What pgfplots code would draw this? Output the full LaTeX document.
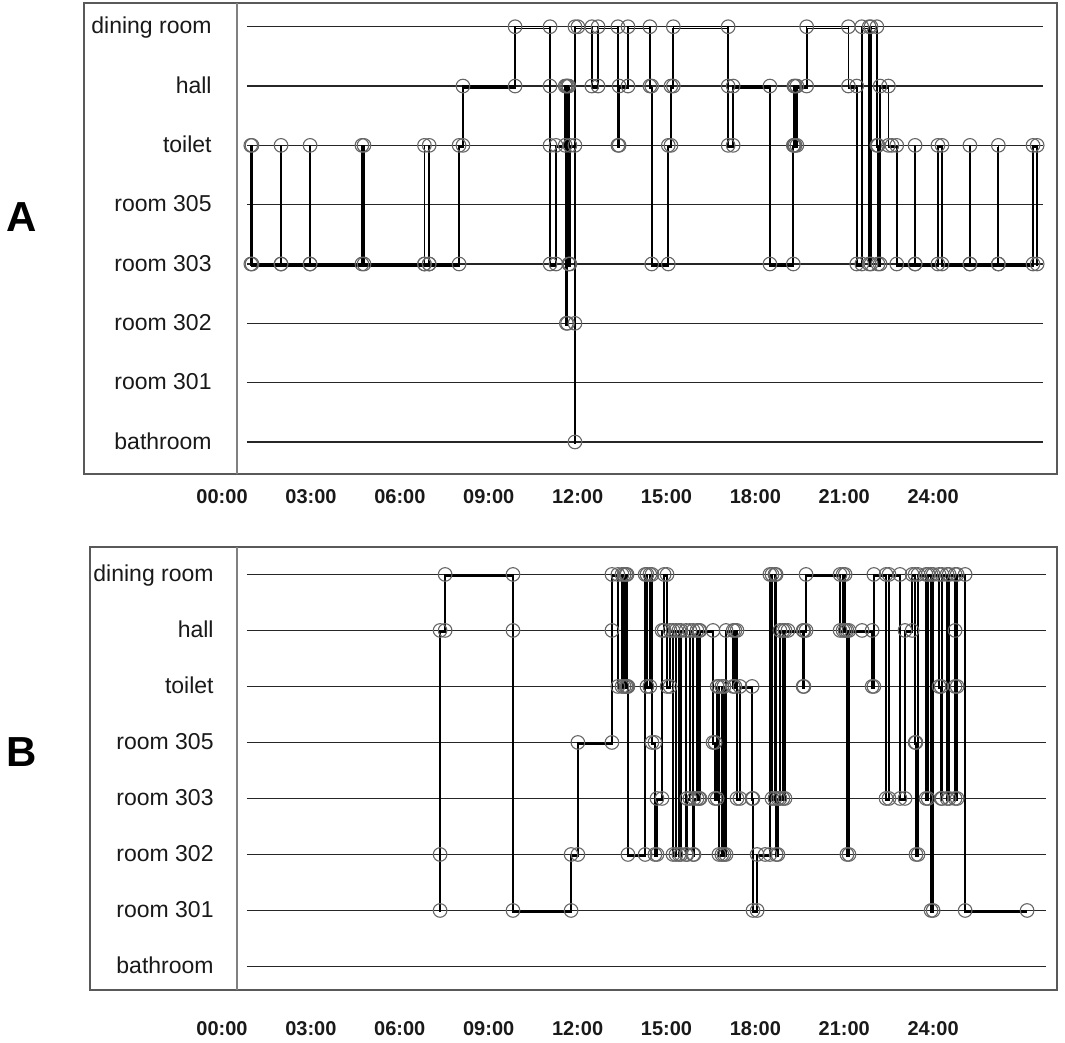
\documentclass[border=0pt]{standalone}
\usepackage{pgfplots}
\pgfplotsset{compat=1.18}
\usepackage{fontspec}
\setmainfont{Liberation Sans}

\pgfplotstableread{
x y
0.97 3
0.97 5
1.01 5
1.01 3
1.99 3
1.99 5
1.99 3
2.97 3
2.97 5
2.97 3
4.72 3
4.72 5
4.79 5
4.79 3
6.83 3
6.83 5
6.83 3
6.99 3
6.99 5
6.99 3
8.00 3
8.00 5
8.13 5
8.13 6
9.89 6
9.89 7
11.07 7
11.07 6
11.07 5
11.07 3
11.27 3
11.27 5
11.58 5
11.58 6
11.62 6
11.62 2
11.66 2
11.66 6
11.70 6
11.70 3
11.74 3
11.74 5
11.91 5
11.91 2
11.91 0
11.91 7
12.01 7
12.48 7
12.48 6
12.69 6
12.69 7
13.36 7
13.36 5
13.40 5
13.40 6
13.70 6
13.70 7
14.44 7
14.44 6
14.50 6
14.50 3
15.06 3
15.06 5
15.15 5
15.15 6
15.23 6
15.23 7
17.08 7
17.08 6
17.08 5
17.25 5
17.25 6
18.49 6
18.49 3
19.28 3
19.28 5
19.30 5
19.30 6
19.34 6
19.34 5
19.40 5
19.40 6
19.73 6
19.73 7
21.14 7
21.14 6
21.42 6
21.42 3
21.59 3
21.59 7
21.84 7
21.84 3
21.90 3
21.90 7
22.10 7
22.10 5
22.14 5
22.14 3
22.21 3
22.21 6
22.49 6
22.49 5
22.61 5
22.77 5
22.77 3
23.39 3
23.39 5
23.39 3
24.16 3
24.16 5
24.30 5
24.30 3
25.24 3
25.24 5
25.24 3
26.20 3
26.20 5
26.20 3
27.37 3
27.37 5
27.51 5
27.51 3
}\pathA

\pgfplotstableread{
x y
7.36 1
7.36 2
7.36 6
7.53 6
7.53 7
9.82 7
9.82 6
9.82 1
11.78 1
11.78 2
12.01 2
12.01 4
13.16 4
13.16 6
13.16 7
13.36 7
13.36 5
13.50 5
13.50 7
13.57 7
13.57 5
13.63 5
13.63 7
13.67 7
13.67 5
13.70 5
13.70 2
14.28 2
14.28 7
14.34 7
14.34 5
14.44 5
14.44 7
14.51 7
14.51 4
14.61 4
14.61 2
14.68 2
14.68 3
14.85 3
14.85 6
14.92 6
14.92 7
15.02 7
15.02 5
15.12 5
15.12 6
15.22 6
15.22 2
15.32 2
15.32 6
15.42 6
15.42 2
15.49 2
15.49 6
15.66 6
15.66 2
15.69 2
15.69 3
15.79 3
15.79 6
15.90 6
15.90 2
15.93 2
15.93 3
16.03 3
16.03 6
16.10 6
16.10 3
16.13 3
16.13 6
16.57 6
16.57 4
16.64 4
16.64 3
16.71 3
16.71 5
16.77 5
16.77 2
16.87 2
16.87 5
16.94 5
16.94 2
17.01 2
17.01 6
17.25 6
17.25 5
17.31 5
17.31 6
17.38 6
17.38 3
17.48 3
17.48 5
17.89 5
17.89 3
17.92 3
17.92 1
18.06 1
18.06 2
18.33 2
18.49 2
18.49 7
18.56 7
18.56 3
18.66 3
18.66 7
18.70 7
18.70 2
18.76 2
18.76 3
18.83 3
18.83 6
18.93 6
18.93 3
19.00 3
19.00 6
19.10 6
19.61 6
19.61 5
19.64 5
19.64 6
19.71 6
19.71 7
20.86 7
20.86 6
20.96 6
20.96 7
21.03 7
21.03 6
21.09 6
21.09 2
21.16 2
21.16 6
21.60 6
21.94 6
21.94 5
22.00 5
22.00 7
22.41 7
22.41 3
22.51 3
22.51 7
22.88 7
22.88 3
23.05 3
23.05 6
23.29 6
23.29 7
23.39 7
23.39 4
23.42 4
23.42 2
23.49 2
23.49 7
23.76 7
23.76 3
23.83 3
23.83 7
23.93 7
23.93 1
24.00 1
24.00 7
24.20 7
24.20 5
24.27 5
24.27 3
24.30 3
24.30 7
24.47 7
24.47 3
24.54 3
24.54 7
24.74 7
24.74 6
24.74 5
24.74 3
24.81 3
24.81 5
24.81 7
25.08 7
25.08 1
27.17 1
}\pathB

\pgfplotsset{
  actplot/.style={
    scale only axis,
    xtick={0,3,...,24},
    xticklabels={00:00,03:00,06:00,09:00,12:00,15:00,18:00,21:00,24:00},
    ytick=\empty,
    major tick length=0pt,
    axis line style={black!65, line width=0.6pt},
    xticklabel style={font=\fontsize{10}{12}\selectfont\bfseries, text=black!90},
  },
  catline/.style={black!85, line width=0.75pt, forget plot},
  trail/.style={black, line width=0.7pt, mark=o, mark size=3.4pt,
    mark options={draw=black!60, line width=0.55pt, solid}},
  trailshadow/.style={black, line width=0.9pt, yshift=-0.9pt, forget plot},
}
\tikzset{
  catlab/.style={anchor=east, inner sep=0pt, text height=0.72em, text depth=0pt,
    font=\fontsize{11.5}{13}\selectfont, text=black!90},
}

\begin{document}
\begin{tikzpicture}
\path[use as bounding box] (0pt,0pt) rectangle (532.5pt,-521.5pt);

% ---------- Panel A ----------
\begin{axis}[actplot,
  at={(42pt,-237pt)}, anchor=south west,
  width=486.5pt, height=235.5pt,
  xmin=-4.66, xmax=28.18, ymin=-0.54, ymax=7.40,
  xticklabel style={yshift=-4pt}]
  \pgfplotsinvokeforeach{0,...,7}{
    \addplot[catline] coordinates {(0.84,#1) (27.71,#1)};
  }
  \addplot[black!50, line width=1.1pt, forget plot] coordinates {(0.51,-0.54) (0.51,7.40)};
  \addplot[trailshadow] table[x=x, y=y] {\pathA};
  \addplot[trail] table[x=x, y=y] {\pathA};
  \node[catlab] at (axis cs:-0.34,7) {dining room};
  \node[catlab] at (axis cs:-0.34,6) {hall};
  \node[catlab] at (axis cs:-0.34,5) {toilet};
  \node[catlab] at (axis cs:-0.34,4) {room 305};
  \node[catlab] at (axis cs:-0.34,3) {room 303};
  \node[catlab] at (axis cs:-0.34,2) {room 302};
  \node[catlab] at (axis cs:-0.34,1) {room 301};
  \node[catlab] at (axis cs:-0.34,0) {bathroom};
\end{axis}

% ---------- Panel B ----------
\begin{axis}[actplot,
  at={(45pt,-495pt)}, anchor=south west,
  width=483.5pt, height=221.5pt,
  xmin=-4.455, xmax=28.18, ymin=-0.42, ymax=7.49,
  xticklabel style={yshift=-12pt}]
  \pgfplotsinvokeforeach{0,...,7}{
    \addplot[catline] coordinates {(0.84,#1) (27.81,#1)};
  }
  \addplot[black!50, line width=1.1pt, forget plot] coordinates {(0.51,-0.42) (0.51,7.49)};
  \addplot[trailshadow] table[x=x, y=y] {\pathB};
  \addplot[trail] table[x=x, y=y] {\pathB};
  \node[catlab] at (axis cs:-0.27,7) {dining room};
  \node[catlab] at (axis cs:-0.27,6) {hall};
  \node[catlab] at (axis cs:-0.27,5) {toilet};
  \node[catlab] at (axis cs:-0.27,4) {room 305};
  \node[catlab] at (axis cs:-0.27,3) {room 303};
  \node[catlab] at (axis cs:-0.27,2) {room 302};
  \node[catlab] at (axis cs:-0.27,1) {room 301};
  \node[catlab] at (axis cs:-0.27,0) {bathroom};
\end{axis}

\node[font=\fontsize{21}{24}\selectfont\bfseries] at (11pt,-108.5pt) {A};
\node[font=\fontsize{21}{24}\selectfont\bfseries] at (11pt,-376pt) {B};
\end{tikzpicture}
\end{document}
